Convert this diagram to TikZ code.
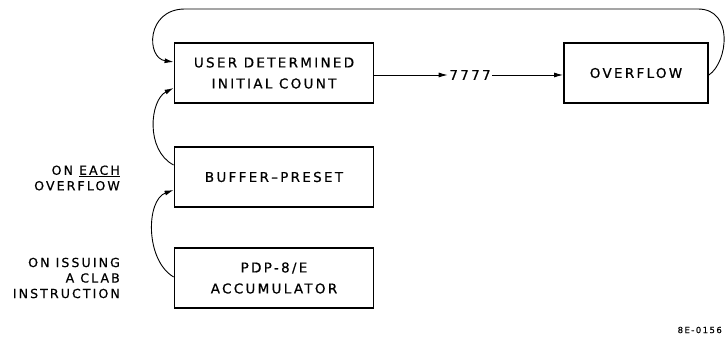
\documentclass[tikz,border=0pt]{standalone}
\usepackage{fontspec}
\setmainfont{DejaVu Sans}[LetterSpace=17,FakeBold=0.6]
\usetikzlibrary{arrows.meta,calc}
\begin{document}
\begin{tikzpicture}[x=1pt,y=-1pt,
  blk/.style={draw,line width=1.8pt,minimum width=199pt,minimum height=60pt,align=center,font=\fontsize{13.5}{21}\selectfont,inner sep=0pt},
  conn/.style={line width=0.9pt,-{Latex[length=9pt,width=5pt]}},
  lbl/.style={align=right,font=\fontsize{12.5}{15.5}\selectfont,inner sep=0pt,anchor=east}]
\useasboundingbox (0,0) rectangle (725,339);
\node[blk] (u) at (274,73) {USER DETERMINED\\INITIAL COUNT};
\node[blk] (b) at (274,177) {BUFFER\,--\,PRESET};
\node[blk] (p) at (274,278) {PDP-8/E\\ACCUMULATOR};
\node[blk,minimum width=144pt] (o) at (636,73) {OVERFLOW};
\node[font=\fontsize{13.5}{15}\selectfont,inner sep=1.5pt] (n) at (470,75) {7777};
\draw[conn] (u.east|-n) -- (n.west);
\draw[conn] (n.east) -- (o.west|-n);
\draw[conn] ($(o.east)+(0,2)$) .. controls (728,62) and (734,9) .. (698,9) -- (185,9) .. controls (146,9) and (146,58) .. ($(u.west)+(0,-11)$);
\draw[conn] ($(b.west)+(0,-12)$) .. controls (145,150) and (150,100) .. ($(u.west)+(0,15)$);
\draw[conn] ($(p.west)+(0,-1)$) .. controls (145,260) and (146,200) .. ($(b.west)+(0,13)$);
\node[lbl] (l1) at (120,178) {ON \underline{EACH}\\OVERFLOW};
\node[lbl] (l2) at (120,278) {ON ISSUING\\A CLAB\\INSTRUCTION};
\node[font=\fontsize{8.5}{10}\selectfont,anchor=east,inner sep=0pt] (id) at (722,330) {8E-0156};
\end{tikzpicture}
\end{document}
